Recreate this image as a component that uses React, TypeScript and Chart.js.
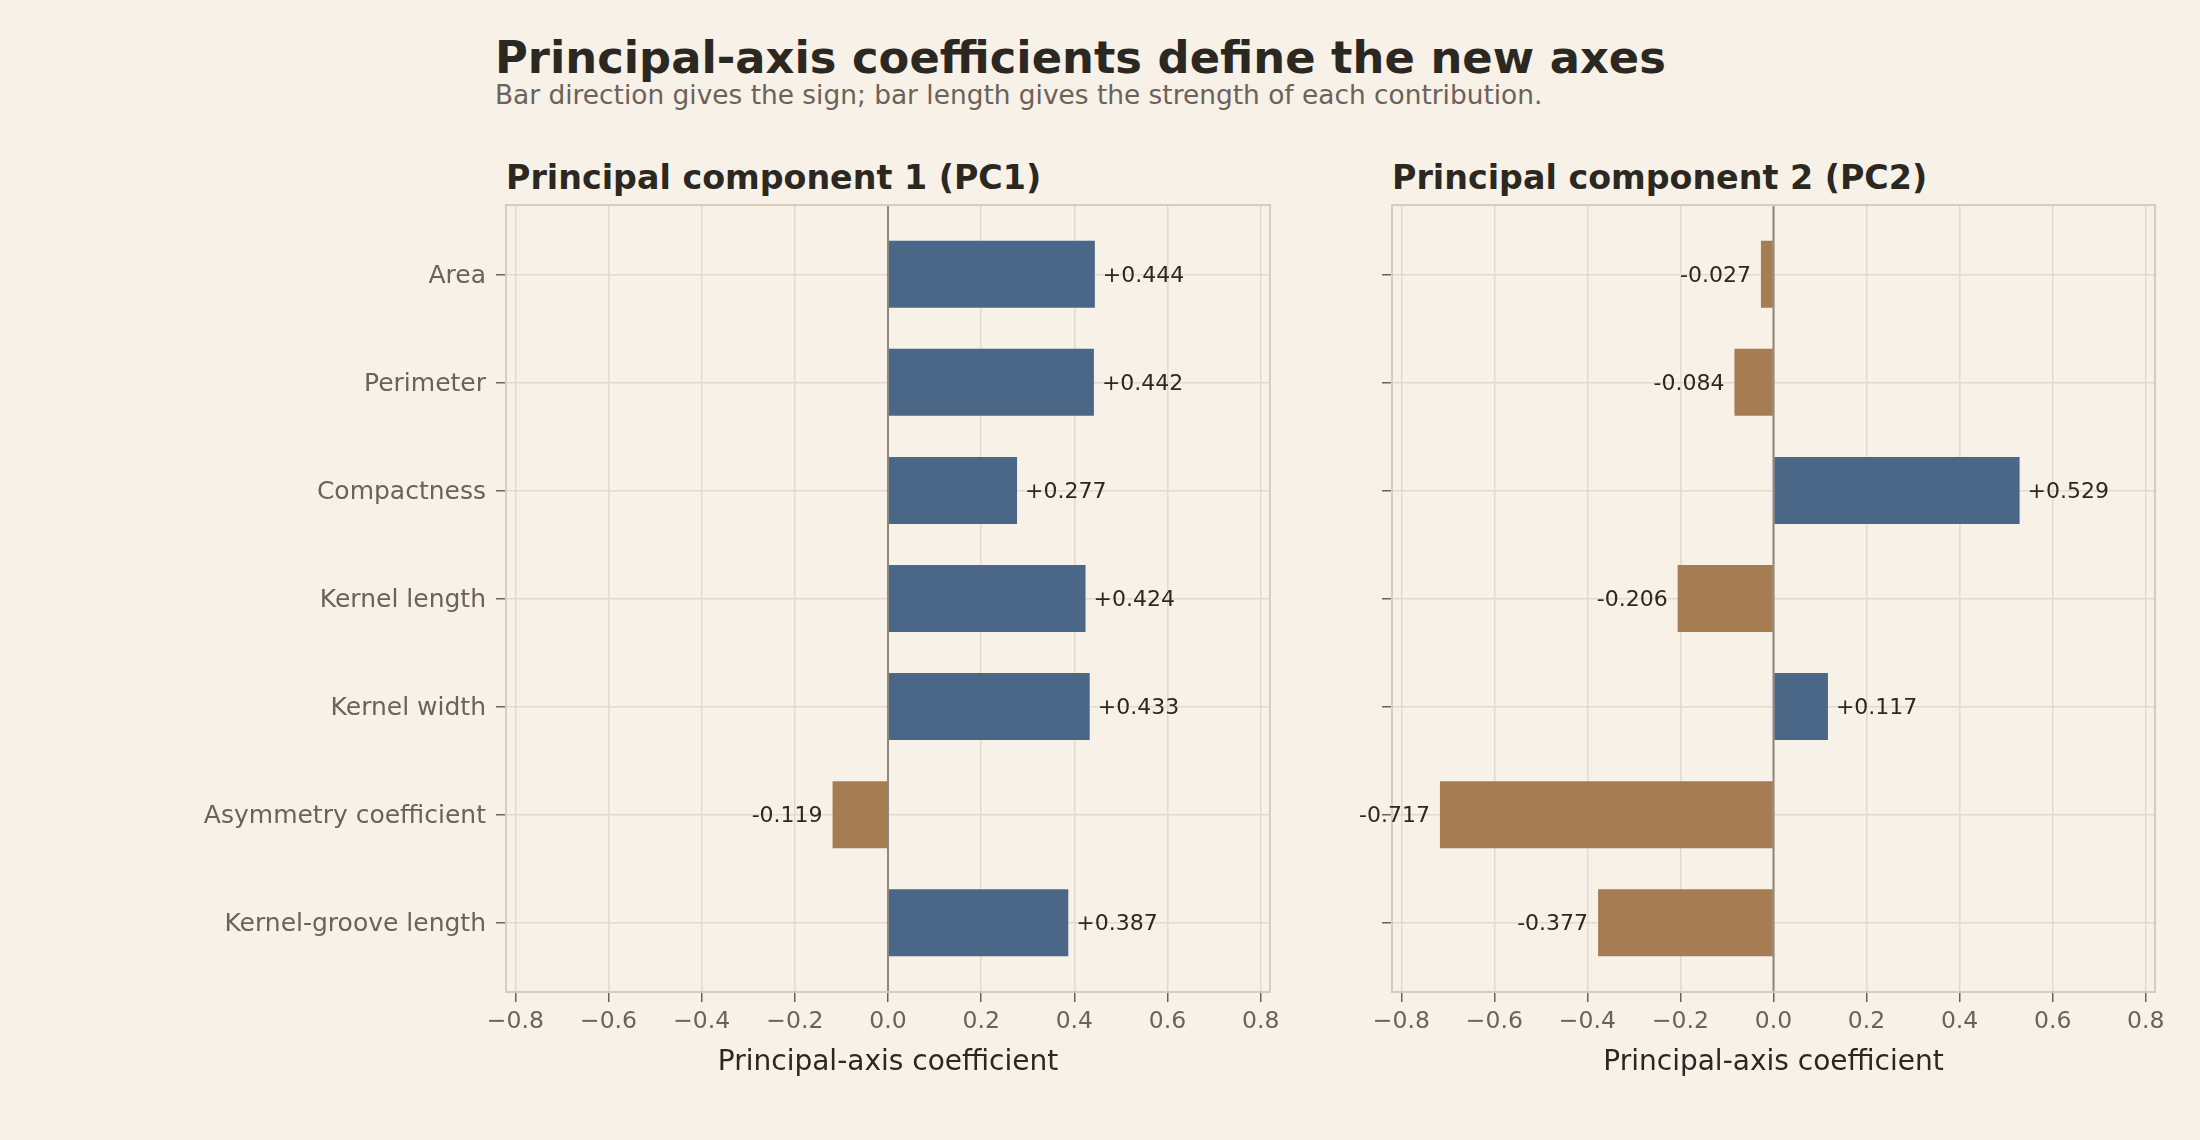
import React, { useEffect, useRef } from "react";
import Chart from "chart.js/auto";

// feature names, top to bottom
const FEATURES = [
  "Area",
  "Perimeter",
  "Compactness",
  "Kernel length",
  "Kernel width",
  "Asymmetry coefficient",
  "Kernel-groove length",
];
const PC1 = [0.444, 0.442, 0.277, 0.424, 0.433, -0.119, 0.387];
const PC2 = [-0.027, -0.084, 0.529, -0.206, 0.117, -0.717, -0.377];
const X_TICKS = [-0.8, -0.6, -0.4, -0.2, 0, 0.2, 0.4, 0.6, 0.8];
const X_LIMIT = 0.82;
const Y_PAD = 0.641;

const FONT = "'DejaVu Sans', sans-serif";
const BG = "#f7f1e8";
const INK = "#2b2822";
const MUTED = "#6b6259";
const GRID = "#e2dacd";
const FRAME = "#d6cdbf";
const BLUE = "#4a6788";
const BROWN = "#a67c52";

interface PanelProps {
  values: number[];
  showLabels: boolean;
  left: number;
  width: number;
  axisWidth: number;
  padRight: number;
}

function Panel({ values, showLabels, left, width, axisWidth, padRight }: PanelProps) {
  const chartRef = useRef<HTMLCanvasElement | null>(null);

  useEffect(() => {
    if (!chartRef.current) return;
    const ctx = chartRef.current.getContext("2d");
    if (!ctx) return;

    const overlay = {
      id: "overlay",
      afterDatasetsDraw(chart: Chart) {
        const c = chart.ctx;
        const area = chart.chartArea;
        const x0 = chart.scales.x.getPixelForValue(0);
        c.save();
        // zero line
        c.strokeStyle = "#8f857b";
        c.lineWidth = 2;
        c.beginPath();
        c.moveTo(x0, area.top);
        c.lineTo(x0, area.bottom);
        c.stroke();
        // frame
        c.strokeStyle = FRAME;
        c.lineWidth = 2;
        c.strokeRect(area.left, area.top, area.right - area.left, area.bottom - area.top);
        // value labels
        c.font = `22px ${FONT}`;
        c.fillStyle = INK;
        c.textBaseline = "middle";
        chart.getDatasetMeta(0).data.forEach((bar: any, i: number) => {
          const v = values[i];
          const txt = (v >= 0 ? "+" : "") + v.toFixed(3);
          if (v >= 0) {
            c.textAlign = "left";
            c.fillText(txt, bar.x + 8, bar.y + 2);
          } else {
            c.textAlign = "right";
            c.fillText(txt, bar.x - 10, bar.y + 2);
          }
        });
        c.restore();
      },
    };

    const chart = new Chart(ctx, {
      type: "bar",
      data: {
        datasets: [
          {
            data: values.map((v, i) => ({ x: v, y: i })),
            backgroundColor: values.map((v) => (v >= 0 ? BLUE : BROWN)),
            borderWidth: 0,
            barPercentage: 0.62,
            categoryPercentage: 1,
          },
        ],
      },
      options: {
        indexAxis: "y",
        responsive: false,
        animation: false,
        layout: { padding: { top: 15, right: padRight, left: 0, bottom: 0 } },
        plugins: { legend: { display: false }, tooltip: { enabled: false } },
        scales: {
          x: {
            type: "linear",
            min: -X_LIMIT,
            max: X_LIMIT,
            offset: false,
            afterBuildTicks: (s: any) => {
              s.ticks = X_TICKS.map((value) => ({ value }));
            },
            afterFit: (s: any) => {
              s.height = 108;
              s.paddingLeft = 0;
              s.paddingRight = 0;
            },
            border: { display: false },
            grid: {
              offset: false,
              color: GRID,
              lineWidth: 1.5,
              tickColor: MUTED,
              tickLength: 10,
              tickWidth: 1.5,
            },
            ticks: {
              color: MUTED,
              font: { family: FONT, size: 23.5 },
              padding: 6,
              maxRotation: 0,
              callback: (v: any) =>
                v === 0 ? "0.0" : (v < 0 ? "\u2212" : "") + Math.abs(v).toFixed(1),
            },
            title: {
              display: true,
              text: "Principal-axis coefficient",
              color: INK,
              font: { family: FONT, size: 28 },
              padding: { top: 0, bottom: 20 },
            },
          },
          y: {
            type: "linear",
            reverse: true,
            offset: false,
            min: -Y_PAD,
            max: FEATURES.length - 1 + Y_PAD,
            afterBuildTicks: (s: any) => {
              s.ticks = FEATURES.map((_, i) => ({ value: i }));
            },
            afterFit: (s: any) => {
              s.width = axisWidth;
              s.paddingTop = 0;
              s.paddingBottom = 0;
            },
            border: { display: false },
            grid: {
              offset: false,
              color: GRID,
              lineWidth: 1.5,
              tickColor: MUTED,
              tickLength: 10,
              tickWidth: 1.5,
            },
            ticks: {
              color: MUTED,
              font: { family: FONT, size: 25 },
              padding: 10,
              labelOffset: 2,
              callback: (v: any) => (showLabels ? FEATURES[v] : ""),
            },
          },
        },
      },
      plugins: [overlay],
    });

    return () => {
      chart.destroy();
    };
  }, []);

  return (
    <canvas
      ref={chartRef}
      width={width}
      height={910}
      style={{ position: "absolute", left, top: 190, width, height: 910 }}
    />
  );
}

export default function App() {
  return (
    <div
      style={{
        position: "absolute",
        left: 0,
        top: 0,
        width: 2200,
        height: 1140,
        background: BG,
        fontFamily: FONT,
        overflow: "hidden",
      }}
    >
      <div
        style={{
          position: "absolute",
          left: 495,
          top: 36,
          fontSize: 44.8,
          lineHeight: 1,
          fontWeight: "bold",
          color: INK,
          whiteSpace: "nowrap",
        }}
      >
        Principal-axis coefficients define the new axes
      </div>
      <div
        style={{
          position: "absolute",
          left: 495,
          top: 82,
          fontSize: 26.4,
          lineHeight: 1,
          color: MUTED,
          whiteSpace: "nowrap",
        }}
      >
        Bar direction gives the sign; bar length gives the strength of each contribution.
      </div>
      <div
        style={{
          position: "absolute",
          left: 506,
          top: 161,
          fontSize: 33.3,
          lineHeight: 1,
          fontWeight: "bold",
          color: INK,
          whiteSpace: "nowrap",
        }}
      >
        Principal component 1 (PC1)
      </div>
      <div
        style={{
          position: "absolute",
          left: 1392,
          top: 161,
          fontSize: 33.3,
          lineHeight: 1,
          fontWeight: "bold",
          color: INK,
          whiteSpace: "nowrap",
        }}
      >
        Principal component 2 (PC2)
      </div>
      <Panel values={PC1} showLabels={true} left={0} width={1300} axisWidth={506} padRight={30} />
      <Panel values={PC2} showLabels={false} left={1320} width={880} axisWidth={72} padRight={45} />
    </div>
  );
}
